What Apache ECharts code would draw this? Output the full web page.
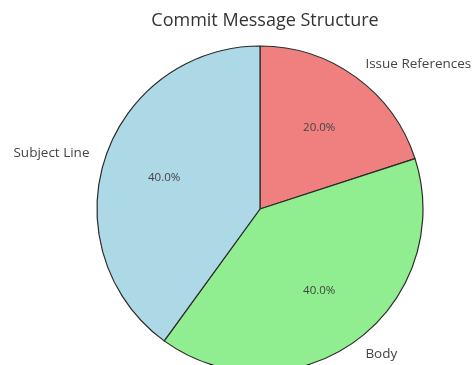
<!DOCTYPE html>
<html><head><meta charset="utf-8">
<script src="https://cdn.jsdelivr.net/npm/echarts@6/dist/echarts.min.js"></script>
<style>html,body{margin:0;padding:0;background:#fff}#c{width:472px;height:365px}</style>
</head><body><div id="c"></div>
<script>
const categories = ['Subject Line', 'Body', 'Issue References'];
const values = [40, 40, 20];
const colors = ['#ADD8E6', '#90EE90', '#F08080'];

const total = values.reduce((a, b) => a + b, 0);
// ECharts draws clockwise; matplotlib counterclockwise -> reverse order
const order = [2, 1, 0];
const R = 163;
const center = [260, 209];
const font = 'Open Sans';

const mainData = order.map(i => ({ name: categories[i], value: values[i], itemStyle: { color: colors[i] } }));
const pctData = order.map(i => ({ name: categories[i], value: values[i] }));

const chart = echarts.init(document.getElementById('c'), null, { renderer: 'canvas' });
chart.setOption({
  animation: false,
  title: {
    text: 'Commit Message Structure', left: 260, top: 7, textAlign: 'center',
    textStyle: { fontFamily: font, fontSize: 18, fontWeight: 'normal', color: '#333' }
  },
  series: [
    {
      type: 'pie', center: center, radius: [0, R], startAngle: 90, clockwise: true,
      avoidLabelOverlap: false, silent: true,
      itemStyle: { borderColor: '#2a2a2a', borderWidth: 1.2 },
      label: {
        show: true, position: 'outside', distanceToLabelLine: 0,
        fontFamily: font, fontSize: 13.5, color: '#444', formatter: '{b}'
      },
      labelLine: { show: false, length: R * 0.1, length2: 0 },
      data: mainData
    },
    {
      type: 'pie', center: center, radius: [R * 0.2, R], startAngle: 90, clockwise: true,
      avoidLabelOverlap: false, silent: true, z: 5,
      itemStyle: { color: 'rgba(0,0,0,0)', borderWidth: 0 },
      label: {
        show: true, position: 'inside',
        fontFamily: font, fontSize: 11.5, color: '#444',
        formatter: p => (p.value / total * 100).toFixed(1) + '%'
      },
      labelLine: { show: false },
      data: pctData
    }
  ]
});
</script></body></html>
